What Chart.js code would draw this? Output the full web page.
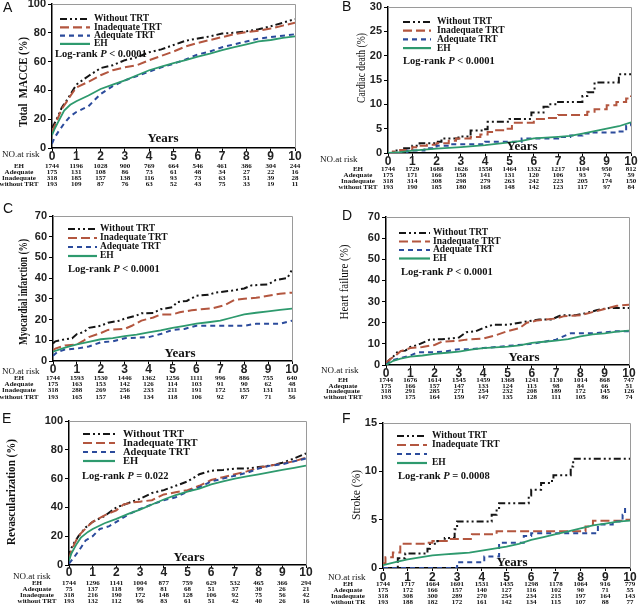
<!DOCTYPE html>
<html>
<head>
<meta charset="utf-8">
<script src="https://cdn.jsdelivr.net/npm/chart.js@4.4.0/dist/chart.umd.min.js"></script>
<style>
html, body { margin: 0; padding: 0; background: #fff; overflow: hidden; }
#wrap { position: relative; width: 640px; height: 606px; }
#wrap canvas { position: absolute; }
</style>
</head>
<body>
<div id="wrap"></div>
<script>
// ---- data: [year, cumulative %] ----
const years = [0, 1, 2, 3, 4, 5, 6, 7, 8, 9, 10];

// A  total MACCE
const maceWithout = [[0,14],[0.1,17],[0.25,22],[0.4,28],[0.6,33],[0.75,37],[1,44],[1.5,50],[2,55.5],[2.5,57.5],[3,61],[3.5,63],[4,66.5],[4.5,68.5],[5,71.5],[5.5,74.5],[6,76],[6.5,77.5],[7,79.5],[7.5,80],[8,81],[8.5,82.5],[9,84.5],[9.5,87],[10,89.5]];
const maceInadequate = [[0,11],[0.1,15],[0.25,21],[0.4,27],[0.6,32],[0.75,36],[1,42],[1.5,46],[2,50.5],[2.5,54],[3,56],[3.5,57.5],[4,61],[4.5,64],[5,67],[5.5,70.5],[6,73],[6.5,75],[7,77],[7.5,79],[8,80.5],[8.5,81.5],[9,83],[9.5,85],[10,87]];
const maceAdequate = [[0,3],[0.1,7],[0.25,11],[0.5,17],[0.75,22],[1,25],[1.5,29],[2,37.5],[2.5,43],[3,47],[3.5,50],[4,53],[4.5,56],[5,58.5],[5.5,61.5],[6,65],[6.5,67],[7,70],[7.5,72],[8,74],[8.5,76],[9,77],[9.5,78],[10,79]];
const maceEH = [[0,9],[0.1,13],[0.25,18],[0.5,26],[0.75,30],[1,32.5],[1.5,36.5],[2,41],[2.5,44],[3,47],[3.5,50.5],[4,54],[4.5,56.5],[5,59],[5.5,61],[6,63.5],[6.5,65.5],[7,68],[7.5,70],[8,72],[8.5,74],[9,75],[9.5,76.5],[10,77.5]];
const maceRiskEH = [1744,1196,1028,900,769,664,546,461,386,304,244];
const maceRiskAdequate = [175,131,108,86,73,61,48,34,27,22,16];
const maceRiskInadequate = [318,185,157,138,116,93,73,63,51,39,28];
const maceRiskWithout = [193,109,87,76,63,52,43,75,33,19,11];

// B  cardiac death
const cdWithout = [[0,0],[0.3,0.5],[0.6,1.0],[1.0,1.5],[1.3,2.0],[1.9,2.3],[2.2,3.0],[2.9,3.4],[3.4,4.6],[3.9,4.9],[4.1,6.4],[5.0,7.0],[5.9,8.3],[6.4,9.5],[6.6,10.0],[7.0,10.5],[8.0,11.7],[8.2,12.5],[8.5,14.5],[9.5,16.2],[10,16.3]];
const cdInadequate = [[0,0],[0.2,0.3],[0.5,0.6],[1.0,1.2],[1.3,1.5],[1.6,1.7],[2.0,2.0],[2.5,2.5],[2.8,3.0],[3.4,3.3],[3.8,3.8],[4.1,4.3],[4.4,4.7],[4.8,5.0],[5.1,6.2],[6.0,7.0],[6.5,7.2],[7.0,7.8],[8.2,8.5],[8.5,9.0],[9.0,9.8],[9.4,10.5],[9.8,11.2],[10,11.8]];
const cdAdequate = [[0,0],[0.8,0.5],[1.5,1.0],[2.0,1.5],[2.6,1.8],[4.0,2.3],[5.5,3.0],[7.0,3.3],[7.5,3.6],[8.0,4.0],[8.4,4.2],[9.4,4.4],[9.8,5.6],[10,6.2]];
const cdEH = [[0,0],[0.5,0.2],[1,0.5],[2,0.9],[3,1.2],[4,1.6],[5,2.2],[5.5,2.5],[6,3.0],[7,3.3],[7.5,3.5],[8,4.0],[8.5,4.5],[9,5.0],[9.5,5.5],[10,6.3]];
const cdRiskEH = [1744,1729,1688,1626,1558,1464,1332,1217,1104,950,812];
const cdRiskAdequate = [175,171,166,158,141,131,120,106,93,74,59];
const cdRiskInadequate = [318,314,308,298,279,263,242,223,205,174,150];
const cdRiskWithout = [193,190,185,180,168,148,142,123,117,97,84];

// C  myocardial infarction
const miWithout = [[0,8.5],[0.1,9.5],[0.5,10.5],[0.8,11],[1,13],[1.3,14],[1.5,16],[2,17],[2.3,18.5],[2.8,19.5],[3,20.5],[3.5,22],[3.7,23],[4.2,23.2],[4.5,25],[5,26],[5.2,28.5],[5.6,29],[6,31.5],[6.5,32],[6.8,33],[7.5,34],[8,35],[8.3,36.5],[9,37],[9.3,39],[9.8,40],[10,44]];
const miInadequate = [[0,5],[0.1,6],[0.5,7.5],[1,8],[1.3,10],[1.5,11.5],[2,13.5],[2.3,15],[3,15.5],[3.3,17],[3.7,19.5],[4.2,21],[4.5,22.5],[5,22.5],[5.3,23.5],[5.8,24.5],[6.2,25],[6.7,25.5],[7.2,27],[7.6,29.5],[8,30],[8.5,30.5],[9,31.5],[9.5,32.5],[10,33]];
const miAdequate = [[0,2.5],[0.2,4.5],[0.5,5.5],[1,6],[1.5,7],[2,9],[2.5,9.5],[3,11],[4,11.5],[4.5,13],[5,15],[5.5,15.5],[6,17],[7,17],[8,17],[8.5,18],[9.5,18],[10,19.5]];
const miEH = [[0,4.5],[0.5,6.5],[1,8],[1.5,9.2],[2,10.5],[2.5,11],[3,12],[3.5,12.7],[4,13.8],[4.5,14.8],[5,16],[5.5,17],[6,18],[6.5,18.7],[7,19.5],[7.5,21],[8,22.5],[8.5,23.3],[9,24],[9.5,24.7],[10,25.3]];
const miRiskEH = [1744,1593,1530,1446,1362,1256,1111,996,886,755,640];
const miRiskAdequate = [175,163,153,142,126,114,103,91,90,62,48];
const miRiskInadequate = [318,288,269,256,233,211,191,172,155,131,111];
const miRiskWithout = [193,165,157,148,134,118,106,92,87,71,56];

// D  heart failure
const hfWithout = [[0,0.5],[0.1,2],[0.3,4],[0.5,6.5],[0.8,6.8],[1,8.5],[1.3,9.5],[1.8,12],[2.3,12.2],[2.6,12.5],[3,13],[3.3,15.5],[3.7,16],[4,17.5],[4.4,19],[5,19],[5.5,20],[6,21],[6.3,21.5],[6.8,21.5],[7.2,23.5],[7.8,23.5],[8.2,24.5],[8.7,26],[9.2,27],[10,27]];
const hfInadequate = [[0,1],[0.2,3],[0.4,4.5],[0.6,6.5],[1,8],[1.5,8.5],[2,9.5],[2.3,11],[3,11.5],[3.3,12],[4,12.5],[4.5,14],[5,16],[5.5,17.5],[5.8,20],[6.2,21],[7,22],[7.3,23],[8,23.5],[8.5,25],[9,26.5],[9.5,28],[10,28.5]];
const hfAdequate = [[0,0],[0.2,2],[0.5,3],[1,4.5],[1.3,6],[2,6],[2.5,6.5],[3,7.5],[3.5,7.5],[4,8],[5,9],[6,10],[6.5,11],[7,12],[7.3,13.5],[7.6,15],[8.5,15],[9,15.5],[9.5,16],[10,16]];
const hfEH = [[0,0],[0.3,2],[0.6,3],[1,4],[1.5,4.5],[2,5.3],[2.5,5.8],[3,6.3],[3.5,7.3],[4,8],[4.5,8.3],[5,8.7],[5.5,9.3],[6,10.5],[6.5,11],[7,11.5],[7.5,12.2],[8,13.5],[8.5,14.5],[9,15],[9.5,15.8],[10,16.3]];
const hfRiskEH = [1744,1676,1614,1545,1459,1368,1241,1130,1014,868,747];
const hfRiskAdequate = [175,166,157,147,133,124,113,98,84,66,51];
const hfRiskInadequate = [318,291,285,271,254,232,208,189,172,145,126];
const hfRiskWithout = [193,175,164,159,147,135,128,111,105,86,74];

// E  revascularization
const revWithout = [[0,5],[0.05,10],[0.2,15],[0.4,20],[0.7,26],[1,30],[1.5,34],[2,40],[2.5,43],[3,46],[3.5,50],[4,52],[4.5,55],[5,58],[5.5,63],[6,65.5],[6.5,66],[7,67],[7.5,67],[8,68],[8.5,69],[9,71],[9.5,74],[10,77.5]];
const revInadequate = [[0,4],[0.1,10],[0.3,17],[0.5,22],[0.8,27],[1,30],[1.5,34.5],[2,38],[2.3,42],[2.7,43.5],[3,44],[3.5,45],[4,49],[4.5,50.5],[5,52],[5.5,55],[6,59],[6.5,61],[7,63],[7.5,65],[8,67.5],[8.5,69],[9,70.5],[9.5,72],[10,74.5]];
const revAdequate = [[0,1],[0.2,5],[0.5,12],[0.7,17],[1,20],[1.3,25],[1.7,27],[2,30],[2.5,35],[3,39],[3.5,42],[4,45],[4.5,47],[5,51],[5.5,54],[6,58],[6.5,60],[7,62],[7.5,64],[8,67],[8.5,69],[9,70],[9.5,72],[10,74]];
const revEH = [[0,3],[0.1,8],[0.3,14],[0.5,19],[0.8,23],[1,25],[1.5,29],[2,32],[2.5,35.5],[3,38.5],[3.5,42],[4,45.5],[4.5,48.5],[5,51],[5.5,53],[6,56],[6.5,58],[7,60],[7.5,61.5],[8,63],[8.5,64.5],[9,66],[9.5,67.5],[10,69]];
const revRiskEH = [1744,1296,1141,1004,877,759,629,532,465,366,294];
const revRiskAdequate = [75,137,118,99,81,68,51,37,30,26,21];
const revRiskInadequate = [318,216,190,172,148,128,106,92,75,56,42];
const revRiskWithout = [193,132,112,96,83,61,51,42,40,26,16];

// F  stroke
const strWithout = [[0,0],[0.6,1.0],[0.9,1.5],[1.8,2.0],[1.9,2.5],[2.2,2.8],[2.5,3.1],[2.9,4.0],[3.0,4.8],[4.4,5.5],[4.6,6.2],[4.7,6.7],[5.9,7.5],[6.0,8.1],[6.4,8.8],[6.8,9.0],[6.9,9.6],[7.6,10.5],[7.7,11.3],[10,11.3]];
const strInadequate = [[0,0.5],[0.1,1.1],[0.4,1.6],[0.7,2.5],[1.8,2.6],[2.0,2.8],[2.7,3.0],[3.6,3.5],[4.6,3.8],[8.2,4.3],[8.5,4.9],[9.8,5.0],[10,5.0]];
const strAdequate = [[0,0],[3.0,0.6],[4.1,1.2],[4.7,2.6],[5.7,3.3],[6.0,3.6],[8.7,4.5],[9.3,4.8],[9.7,5.5],[9.8,6.4]];
const strEH = [[0,0.3],[0.5,0.6],[1,0.9],[1.5,1.1],[2,1.3],[2.5,1.4],[3,1.5],[3.5,1.6],[4,1.8],[4.5,2.0],[5,2.2],[5.5,2.5],[6,2.9],[6.5,3.2],[7,3.5],[7.5,3.8],[8,4.1],[8.5,4.4],[9,4.6],[9.5,4.8],[10,4.9]];
const strRiskEH = [1744,1717,1664,1601,1531,1435,1298,1178,1064,916,779];
const strRiskAdequate = [175,172,166,157,140,127,116,102,90,71,55];
const strRiskInadequate = [318,308,300,289,270,254,234,215,197,164,143];
const strRiskWithout = [193,188,182,172,161,142,134,115,107,88,77];

// ---- styles ----
const SERIF = '"Liberation Serif", "Times New Roman", serif';
const SANS = '"Liberation Sans", Arial, sans-serif';
const styles = [
  { color: '#151515', dash: [7, 3, 2, 3, 2, 3] },   // without TRT
  { color: '#b3563f', dash: [9, 4] },               // inadequate
  { color: '#2b4b9c', dash: [5, 4] },               // adequate
  { color: '#2e9a6e', dash: [] }                    // EH
];
const XH = 20;

// page coordinates for every panel
const panels = [
  { letter: 'A', canvas: [0, -10, 320, 205], box: [52, 4, 295, 148], yMax: 100, yStep: 10, xPad: -2,
    title: 'Total  MACCE (%)', titleFont: 'bold 13px', titlePos: [24, 82], titleLen: 90,
    series: [maceWithout, maceInadequate, maceAdequate, maceEH], stepped: [false, false, false, false],
    legend: [60, 19, 8.3, 30, 94, 9.5], legendText: ['Without TRT', 'Inadequate TRT', 'Adequate TRT', 'EH'],
    pPos: [55, 54], pText: ['Log-rank ', 'P', ' < 0.0001'], yearsPos: [163, 139],
    riskHead: [2, 155], riskRows: [166, 172, 178, 184], riskLabelX: 19,
    riskLabels: ['EH', 'Adequate', 'Inadequate', 'without TRT'],
    risk: [maceRiskEH, maceRiskAdequate, maceRiskInadequate, maceRiskWithout] },
  { letter: 'B', canvas: [320, -10, 320, 205], box: [388, 7, 631, 153], yMax: 30, yStep: 5, xPad: -2,
    title: 'Cardiac death (%)', titleFont: '13px', titlePos: [362, 68], titleLen: 70,
    series: [cdWithout, cdInadequate, cdAdequate, cdEH], stepped: [true, true, true, false],
    legend: [403, 22, 8.7, 28, 437, 9.5], legendText: ['Without TRT', 'Inadequate TRT', 'Adequate TRT', 'EH'],
    pPos: [403, 61], pText: ['Log-rank ', 'P', ' < 0.0001'], yearsPos: [522, 147],
    riskHead: [320, 160], riskRows: [169, 175, 181, 187], riskLabelX: 358,
    riskLabels: ['EH', 'Adequate', 'Inadequate', 'without TRT'],
    risk: [cdRiskEH, cdRiskAdequate, cdRiskInadequate, cdRiskWithout] },
  { letter: 'C', canvas: [0, 190, 320, 215], box: [53, 216, 292, 361], yMax: 70, yStep: 10, xPad: -2,
    title: 'Myocardial infarction (%)', titleFont: 'bold 13px', titlePos: [24, 292], titleLen: 106,
    series: [miWithout, miInadequate, miAdequate, miEH], stepped: [false, false, false, false],
    legend: [68, 229, 9, 29, 100, 9.5], legendText: ['Without TRT', 'Inadequate TRT', 'Adequate TRT', 'EH'],
    pPos: [68, 269], pText: ['Log-rank ', 'P', ' < 0.0001'], yearsPos: [180, 354],
    riskHead: [2, 372], riskRows: [378, 384, 390, 397], riskLabelX: 19,
    riskLabels: ['EH', 'Adequate', 'Inadequate', 'without TRT'],
    risk: [miRiskEH, miRiskAdequate, miRiskInadequate, miRiskWithout] },
  { letter: 'D', canvas: [320, 190, 320, 215], box: [386, 217, 629, 365], yMax: 70, yStep: 10, xPad: -2,
    title: 'Heart failure (%)', titleFont: '13px', titlePos: [345, 282], titleLen: 75,
    series: [hfWithout, hfInadequate, hfAdequate, hfEH], stepped: [false, false, false, false],
    legend: [399, 233, 8.5, 31, 433, 9.5], legendText: ['Without TRT', 'Inadequate TRT', 'Adequate TRT', 'EH'],
    pPos: [401, 272], pText: ['Log-rank ', 'P', ' < 0.0001'], yearsPos: [524, 358],
    riskHead: [321, 371], riskRows: [380, 386, 391, 397], riskLabelX: 343,
    riskLabels: ['EH', 'Adequate', 'Inadequate', 'without TRT'],
    risk: [hfRiskEH, hfRiskAdequate, hfRiskInadequate, hfRiskWithout] },
  { letter: 'E', canvas: [0, 400, 320, 206], box: [69, 421, 306, 565], yMax: 100, yStep: 10, xPad: -3,
    title: 'Revascularization (%)', titleFont: 'bold 13px', titlePos: [12, 492], titleLen: 106,
    series: [revWithout, revInadequate, revAdequate, revEH], stepped: [false, false, false, false],
    legend: [83, 434, 9, 32, 123, 10.5], legendText: ['Without TRT', 'Inadequate TRT', 'Adequate TRT', 'EH'],
    pPos: [82, 476], pText: ['Log-rank ', 'P', ' = 0.022'], yearsPos: [189, 558],
    riskHead: [13, 577], riskRows: [583, 589, 595, 601], riskLabelX: 37,
    riskLabels: ['EH', 'Adequate', 'Inadequate', 'without TRT'],
    risk: [revRiskEH, revRiskAdequate, revRiskInadequate, revRiskWithout] },
  { letter: 'F', canvas: [320, 400, 320, 206], box: [383, 423, 630, 568], yMax: 15, yStep: 5, xPad: -1,
    title: 'Stroke (%)', titleFont: '13px', titlePos: [357, 495], titleLen: 50,
    series: [strWithout, strInadequate, strAdequate, strEH], stepped: [true, true, true, false],
    legend: [397, 436, 9, 30, 432, 9.5], legendText: ['Without TRT', 'Inadequate TRT', '', 'EH'],
    pPos: [398, 476], pText: ['Log-rank ', 'P', ' = 0.0008'], yearsPos: [512, 563],
    riskHead: [328, 578], riskRows: [584, 590, 596, 602], riskLabelX: 348,
    riskLabels: ['EH', 'Adequate', 'Inadequate', 'without TR'],
    risk: [strRiskEH, strRiskAdequate, strRiskInadequate, strRiskWithout] }
];

function makeDecor(p) {
  const ox = p.canvas[0], oy = p.canvas[1];
  return {
    id: 'decor' + p.letter,
    afterDraw(chart) {
      const ctx = chart.ctx;
      const area = chart.chartArea;
      const xs = chart.scales.x;
      ctx.save();

      // thin grey top/right frame
      ctx.strokeStyle = '#9a9a9a';
      ctx.lineWidth = 1;
      ctx.beginPath();
      ctx.moveTo(area.left, Math.round(area.top) + 0.5);
      ctx.lineTo(Math.round(area.right) + 0.5, Math.round(area.top) + 0.5);
      ctx.lineTo(Math.round(area.right) + 0.5, area.bottom);
      ctx.stroke();

      ctx.fillStyle = '#111';
      // panel letter
      ctx.font = '14px ' + SANS;
      ctx.textAlign = 'left';
      ctx.textBaseline = 'top';
      ctx.fillText(p.letter, p.letterPos[0] - ox, p.letterPos[1] - oy);

      // y axis title, squeezed along its length like the source image
      ctx.save();
      ctx.translate(p.titlePos[0] - ox, p.titlePos[1] - oy);
      ctx.rotate(-Math.PI / 2);
      ctx.font = p.titleFont + ' ' + SERIF;
      const tw = ctx.measureText(p.title).width;
      ctx.scale(Math.min(1, p.titleLen / tw), 1);
      ctx.textAlign = 'center';
      ctx.textBaseline = 'middle';
      ctx.fillText(p.title, 0, 0);
      ctx.restore();

      // legend
      const [lx, ly, gap, len, tx, fs] = p.legend;
      ctx.font = 'bold ' + fs + 'px ' + SERIF;
      ctx.textBaseline = 'middle';
      ctx.textAlign = 'left';
      styles.forEach((s, i) => {
        const y = ly - oy + i * gap;
        ctx.strokeStyle = s.color;
        ctx.lineWidth = 2.2;
        ctx.setLineDash(s.dash);
        ctx.beginPath();
        ctx.moveTo(lx - ox, y);
        ctx.lineTo(lx - ox + len, y);
        ctx.stroke();
        ctx.setLineDash([]);
        ctx.fillStyle = '#111';
        ctx.fillText(p.legendText[i], tx - ox, y);
      });

      // log-rank p value
      let px = p.pPos[0] - ox;
      const py = p.pPos[1] - oy;
      p.pText.forEach((part, i) => {
        ctx.font = (i === 1 ? 'italic bold ' : 'bold ') + '10.5px ' + SERIF;
        ctx.fillText(part, px, py);
        px += ctx.measureText(part).width;
      });

      // "Years"
      ctx.font = 'bold 13px ' + SERIF;
      ctx.textAlign = 'center';
      ctx.fillText('Years', p.yearsPos[0] - ox, p.yearsPos[1] - oy);

      // numbers at risk
      ctx.textAlign = 'left';
      ctx.font = '9px ' + SERIF;
      ctx.fillText('NO.at risk', p.riskHead[0] - ox, p.riskHead[1] - oy);
      ctx.font = 'bold 7px ' + SERIF;
      p.risk.forEach((row, r) => {
        const y = p.riskRows[r] - oy;
        ctx.textAlign = 'center';
        ctx.fillText(p.riskLabels[r], p.riskLabelX - ox, y);
        row.forEach((n, i) => {
          ctx.fillText(String(n), xs.getPixelForValue(years[i]), y);
        });
      });
      ctx.restore();
    }
  };
}

const wrap = document.getElementById('wrap');
const letterPos = { A: [3, 1], B: [342, 0], C: [3, 202], D: [342, 209], E: [2, 412], F: [342, 412] };

panels.forEach(p => {
  p.letterPos = letterPos[p.letter];
  const [cx, cy, cw, ch] = p.canvas;
  const [l, t, r, b] = p.box;
  const canvas = document.createElement('canvas');
  canvas.width = cw;
  canvas.height = ch;
  canvas.style.left = cx + 'px';
  canvas.style.top = cy + 'px';
  canvas.style.width = cw + 'px';
  canvas.style.height = ch + 'px';
  wrap.appendChild(canvas);

  const datasets = p.series.map((s, i) => ({
    data: s.map(d => ({ x: d[0], y: d[1] })),
    borderColor: styles[i].color,
    borderDash: styles[i].dash,
    borderWidth: i === 3 ? 1.8 : 2,
    stepped: p.stepped[i],
    pointRadius: 0,
    fill: false,
    tension: 0
  }));
  // draw EH first so the others sit on top
  datasets.reverse();

  new Chart(canvas, {
    type: 'line',
    data: { datasets: datasets },
    options: {
      responsive: false,
      animation: false,
      events: [],
      layout: { padding: { left: 0, top: t - cy, right: cx + cw - r, bottom: cy + ch - b - XH } },
      plugins: { legend: { display: false }, tooltip: { enabled: false } },
      scales: {
        x: {
          type: 'linear', min: 0, max: 10,
          afterFit: s => { s.height = XH; },
          ticks: { stepSize: 1, padding: p.xPad, color: '#222', font: { family: SANS, weight: 'bold', size: 12 } },
          grid: { drawOnChartArea: false, tickLength: 3, color: '#000' },
          border: { color: '#000', width: 1.5 }
        },
        y: {
          min: 0, max: p.yMax,
          afterFit: s => { s.width = l - cx; },
          ticks: { stepSize: p.yStep, padding: 2, color: '#222', font: { family: SANS, weight: 'bold', size: 11 } },
          grid: { drawOnChartArea: false, tickLength: 4, color: '#000' },
          border: { color: '#000', width: 1.5 }
        }
      }
    },
    plugins: [makeDecor(p)]
  });
});
</script>
</body>
</html>
